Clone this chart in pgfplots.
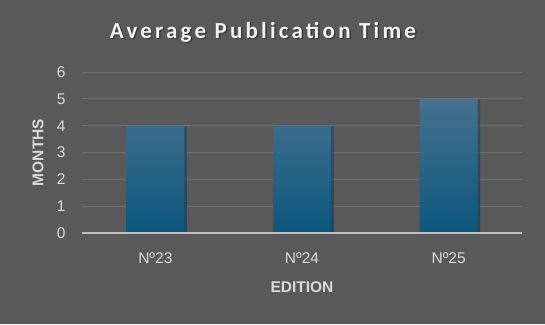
\documentclass[border=0pt]{standalone}
\usepackage{pgfplots}
\pgfplotsset{compat=1.18}
\usepackage{fontspec}
\setmainfont{Liberation Sans}
\newfontfamily\titlefont[LetterSpace=14]{Carlito}
\usetikzlibrary{shadows}
\definecolor{bg}{HTML}{595959}
\definecolor{gridc}{HTML}{707070}
\definecolor{axisc}{HTML}{BFBFBF}
\definecolor{txt}{HTML}{D9D9D9}
\definecolor{bartop}{HTML}{45718F}
\definecolor{barmid}{HTML}{135C80}
\definecolor{barbot}{HTML}{0B577D}
\begin{document}
\begin{tikzpicture}
\fill[bg] (-82pt,-91pt) rectangle (463pt,233pt);
\node[text=black, opacity=0.35, font=\titlefont\bfseries\fontsize{23}{26}\selectfont] at (182.5pt,199.5pt) {Average Publication Time};
\node[text=white!95!black, font=\titlefont\bfseries\fontsize{23}{26}\selectfont] at (181pt,201pt) {Average Publication Time};
\begin{axis}[
  at={(0,0)}, anchor=south west,
  scale only axis, width=440pt, height=161pt,
  xmin=-0.5, xmax=2.5, ymin=0, ymax=6,
  xtick={0,1,2}, xticklabels={Nº23,Nº24,Nº25},
  ytick={0,1,2,3,4,5,6},
  ymajorgrids, grid style={gridc, line width=1pt},
  axis line style={draw=none},
  major tick length=0pt,
  tick style={draw=none},
  /pgf/number format/assume math mode=true,
  ticklabel style={text=txt, font=\fontsize{15.5}{17}\selectfont},
  yticklabel style={xshift=-13pt},
  xticklabel style={yshift=-16pt},
  ylabel={\bfseries MONTHS}, xlabel={\bfseries EDITION},
  label style={text=txt, font=\fontsize{15.5}{17}\selectfont},
  ylabel style={at={(axis description cs:0,0.5)}, anchor=center, yshift=44pt},
  xlabel style={at={(axis description cs:0.5,0)}, yshift=-45pt, anchor=north},
  yticklabel pos=left, xticklabel pos=lower,
  clip=false,
]
\addplot[ybar, bar width=58pt, draw=none, top color=bartop, middle color=barmid, bottom color=barbot,
  drop shadow={shadow xshift=2.5pt, shadow yshift=-1pt, opacity=0.35, fill=black}]
  coordinates {(0,4) (1,4) (2,5)};
\draw[axisc, line width=1.5pt] (axis cs:-0.5,0) -- (axis cs:2.5,0);
\end{axis}
\end{tikzpicture}
\end{document}
